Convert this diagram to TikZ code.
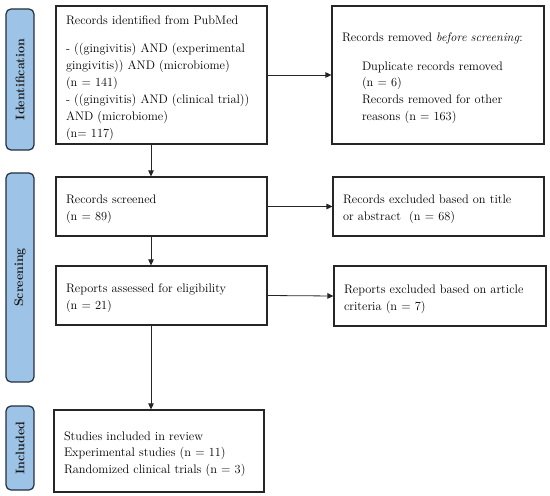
\documentclass[tikz,border=0pt]{standalone}
\usepackage{fontspec}
\usetikzlibrary{arrows.meta}
\definecolor{sidefill}{HTML}{9DC3E6}
\definecolor{sidedraw}{HTML}{22303F}
\tikzset{
  side/.style={draw=sidedraw, fill=sidefill, line width=1.2bp, rounded corners=5bp, minimum width=28bp, inner sep=0pt},
  sidetext/.style={rotate=90, font=\fontsize{12.5}{14}\selectfont\bfseries, text=black!90},
  box/.style={draw=black!85, line width=1.1bp, inner xsep=10bp, inner ysep=0pt, align=left, anchor=center,
     font=\fontsize{12.4}{17}\selectfont},
  arr/.style={-{Triangle[length=6bp,width=5.5bp]}, line width=0.8bp, draw=black!85}
}
\newcommand{\topgap}{\rule{0pt}{15bp}}
\begin{document}
\begin{tikzpicture}[x=1bp,y=-1bp]
\useasboundingbox (0,0) rectangle (550,496);
% sidebars
\node[side, minimum height=141bp] (sid) at (20,79.5) {};
\node[sidetext] (sidt) at (sid.center) {Identification};
\node[side, minimum height=209bp] (sscr) at (20,277.5) {};
\node[sidetext] (sscrt) at (sscr.center) {Screening};
\node[side, minimum height=84bp] (sinc) at (20,448) {};
\node[sidetext] (sinct) at (sinc.center) {Included};
% boxes
\node[box, text width=191bp, minimum height=138bp] (ident) at (161.5,75) {\topgap Records identified from PubMed\\[11bp]
- ((gingivitis) AND (experimental\\ gingivitis)) AND (microbiome)\\ (n = 141)\\ - ((gingivitis) AND (clinical trial))\\ AND (microbiome)\\ (n= 117)};
\node[box, text width=192bp, minimum height=138bp] (removed) at (438,75) {\topgap Records removed \textit{before screening}:\\[12bp]
\hspace*{20bp}Duplicate records removed\\ \hspace*{20bp}(n = 6)\\ \hspace*{20bp}Records removed for other\\ \hspace*{20bp}reasons (n = 163)};
\node[box, text width=191bp, minimum height=59bp] (screen) at (161.5,206.5) {\topgap Records screened\\ (n = 89)};
\node[box, text width=191bp, minimum height=59bp] (excl1) at (438.5,206.5) {\topgap Records excluded based on title\\ or abstract\ \ (n = 68)};
\node[box, text width=191bp, minimum height=59bp] (assess) at (161.5,295.5) {\topgap Reports assessed for eligibility\\ (n = 21)};
\node[box, text width=192bp, minimum height=60bp] (excl2) at (440,296) {\topgap Reports excluded based on article\\ criteria (n = 7)};
\node[box, text width=190bp, minimum height=82bp] (incl) at (159,451) {\topgap Studies included in review\\ Experimental studies (n = 11)\\ Randomized clinical trials (n = 3)};
% connectors
\coordinate (ax) at (151,0);
\draw[arr] (ident.south -| ax) -- (screen.north -| ax);
\draw[arr] (screen.south -| ax) -- (assess.north -| ax);
\draw[arr] (assess.south -| ax) -- (incl.north -| ax);
\draw[arr] (ident.east) -- (removed.west);
\draw[arr] (screen.east) -- (excl1.west);
\draw[arr] (assess.east) -- (excl2.west);
\end{tikzpicture}
\end{document}
